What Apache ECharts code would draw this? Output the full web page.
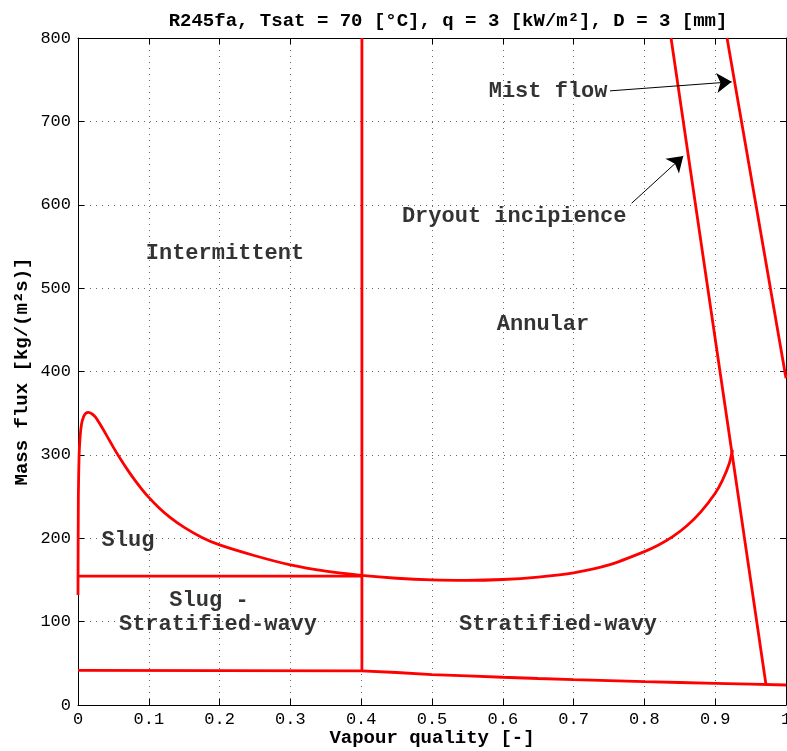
<!DOCTYPE html>
<html><head><meta charset="utf-8">
<script src="https://cdn.jsdelivr.net/npm/echarts@6/dist/echarts.min.js"></script>
<style>html,body{margin:0;padding:0;background:#fff;overflow:hidden}#c{width:787px;height:751px}</style>
</head><body><div id="c"></div>
<script>
// ---- data ----
const xTickLabels = ['0','0.1','0.2','0.3','0.4','0.5','0.6','0.7','0.8','0.9','1'];
const yTickLabels = ['0','100','200','300','400','500','600','700','800'];

// Stratified-wavy boundary (SW -> I/A)
const swX = [0, 0.0005, 0.0015, 0.003, 0.005, 0.008, 0.011, 0.0146, 0.02, 0.025, 0.031, 0.04, 0.05, 0.06, 0.07, 0.08, 0.09, 0.1, 0.115, 0.13, 0.15, 0.175, 0.2, 0.25, 0.3, 0.35, 0.4, 0.45, 0.5, 0.55, 0.6, 0.65, 0.7, 0.75, 0.8, 0.82, 0.84, 0.86, 0.88, 0.9, 0.91, 0.92, 0.9245];
const swG = [132, 250, 298, 322, 337, 346, 350, 351, 349, 345, 337, 324, 309, 295, 282, 270, 259, 249, 236, 225, 213, 201, 192, 179, 168, 160.5, 155.5, 152, 150, 149.5, 150.5, 153.5, 158.5, 168, 184, 192, 202, 215, 232, 254, 269, 290, 306];
// Stratified boundary (S -> SW)
const stX = [0, 0.4, 0.45, 0.5, 0.55, 0.6, 0.65, 0.7, 0.75, 0.8, 0.85, 0.9, 0.95, 1.0];
const stG = [41.5, 41, 39, 36.5, 35, 33.3, 31.8, 30.5, 29.3, 28, 27, 26, 25, 24];
// Slug / Slug-SW boundary
const slugX = [0, 0.401];
const slugG = [154.5, 154.5];
// Intermittent / Annular transition
const iaX = [0.401, 0.401];
const iaG = [41, 800];
// Dryout incipience
const diX = [0.8376, 0.9718];
const diG = [800, 24];
// Mist flow
const mX = [0.9167, 1.0];
const mG = [800, 392];

// region labels
const regionNames = ['Intermittent', 'Annular', 'Slug', 'Slug -', 'Stratified-wavy', 'Stratified-wavy', 'Mist flow', 'Dryout incipience'];
const regionX = [0.2076, 0.6568, 0.0706, 0.185, 0.1977, 0.678, 0.664, 0.616];
const regionG = [541, 457, 197, 125, 97, 97, 736, 586];

// annotation arrows [tailX, tailG, tipX, tipG]
const arrowMist = [0.7514, 736.6, 0.9233, 747.4];
const arrowDryout = [0.7820, 601.8, 0.8549, 658.4];

// ---- chart ----
const FONT = "'Liberation Mono', 'Courier New', monospace";
const RED = '#ff0000';
const zip = (a, b) => a.map((v, i) => [v, b[i]]);

function redLine(x, g, smooth) {
  return {
    type: 'line', data: zip(x, g), showSymbol: false, symbol: 'none', smooth: smooth || false,
    lineStyle: { color: RED, width: 2.8 }, animation: false, clip: true, z: 3
  };
}

const chart = echarts.init(document.getElementById('c'), null, { renderer: 'canvas', width: 787, height: 751 });
const gridLine = { show: true, lineStyle: { color: '#666', width: 1, type: [1, 5] } };
const tick = { show: true, inside: true, length: 6, lineStyle: { color: '#000' } };
const axLine = { show: true, onZero: false, lineStyle: { color: '#000', width: 1 } };

chart.setOption({
  animation: false,
  backgroundColor: '#fff',
  title: {
    text: 'R245fa, Tsat = 70 [°C], q = 3 [kW/m²], D = 3 [mm]',
    left: 443, top: 7, textAlign: 'center',
    textStyle: { fontFamily: FONT, fontWeight: 'bold', fontSize: 19, color: '#000' }
  },
  grid: { left: 78, right: 1, top: 38, bottom: 46, containLabel: false, outerBoundsMode: 'none' },
  xAxis: [{
    type: 'value', min: 0, max: 1, interval: 0.1, position: 'bottom',
    name: 'Vapour quality [-]', nameLocation: 'middle', nameGap: 24, nameMoveOverlap: false,
    nameTextStyle: { fontFamily: FONT, fontWeight: 'bold', fontSize: 19, color: '#000' },
    axisLine: axLine, axisTick: tick, splitLine: gridLine,
    axisLabel: { fontFamily: FONT, fontSize: 17, color: '#000', margin: 6, hideOverlap: false,
      formatter: v => xTickLabels[Math.round(v * 10)] }
  }, {
    type: 'value', min: 0, max: 1, interval: 0.1, position: 'top',
    axisLine: axLine, axisTick: tick, splitLine: { show: false }, axisLabel: { show: false }
  }],
  yAxis: [{
    type: 'value', min: 0, max: 800, interval: 100, position: 'left',
    name: 'Mass flux [kg/(m²s)]', nameLocation: 'middle', nameGap: 46, nameRotate: 90, nameMoveOverlap: false,
    nameTextStyle: { fontFamily: FONT, fontWeight: 'bold', fontSize: 19, color: '#000' },
    axisLine: axLine, axisTick: tick, splitLine: gridLine,
    axisLabel: { fontFamily: FONT, fontSize: 17, color: '#000', margin: 7, hideOverlap: false,
      formatter: v => yTickLabels[Math.round(v / 100)] }
  }, {
    type: 'value', min: 0, max: 800, interval: 100, position: 'right',
    axisLine: axLine, axisTick: tick, splitLine: { show: false }, axisLabel: { show: false }
  }],
  series: [
    redLine(swX, swG, 0.2),
    redLine(stX, stG),
    redLine(slugX, slugG),
    redLine(iaX, iaG),
    redLine(diX, diG),
    redLine(mX, mG),
    {
      type: 'scatter', symbolSize: 0, z: 5,
      data: regionNames.map((n, i) => ({ value: [regionX[i], regionG[i]], name: n })),
      label: {
        show: true, position: 'inside', formatter: p => p.name,
        fontFamily: FONT, fontWeight: 'bold', fontSize: 22, color: '#000'
      }
    },
    {
      type: 'lines', coordinateSystem: 'cartesian2d', z: 6,
      symbol: ['none', 'arrow'], symbolSize: 15,
      lineStyle: { color: '#000', width: 1, opacity: 1 },
      data: [
        { coords: [[arrowMist[0], arrowMist[1]], [arrowMist[2], arrowMist[3]]] },
        { coords: [[arrowDryout[0], arrowDryout[1]], [arrowDryout[2], arrowDryout[3]]] }
      ]
    }
  ]
});
</script></body></html>
